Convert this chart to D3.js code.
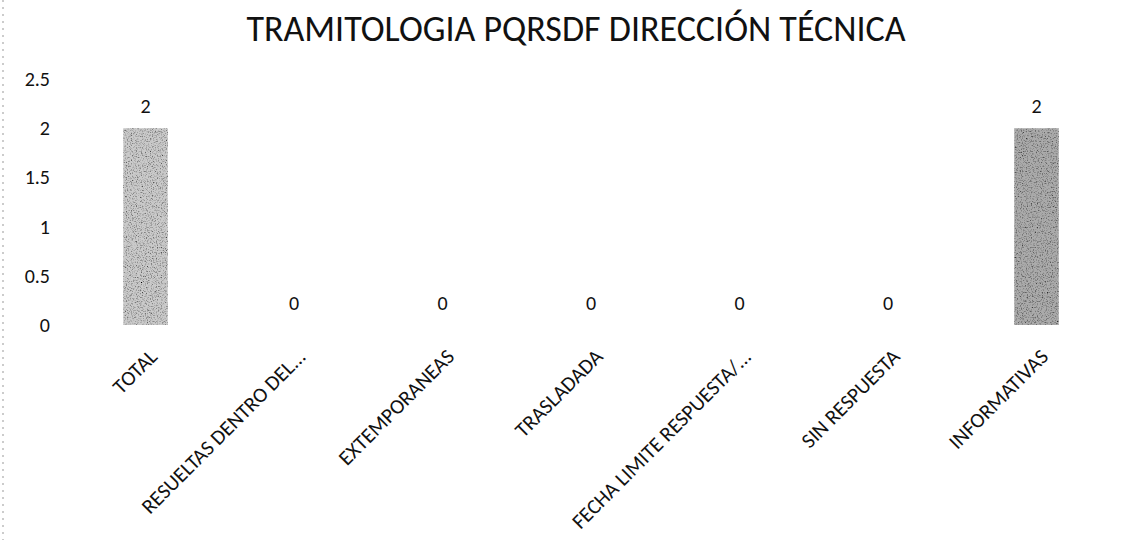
<!DOCTYPE html>
<html><head><meta charset="utf-8">
<script src="https://cdn.jsdelivr.net/npm/d3@7"></script>
<style>body{margin:0;background:#fff}svg{display:block}</style>
</head><body>
<svg id="c" width="1131" height="540"></svg>
<script>
const categories = ["TOTAL","RESUELTAS DENTRO DEL...","EXTEMPORANEAS","TRASLADADA","FECHA LIMITE RESPUESTA/...","SIN RESPUESTA","INFORMATIVAS"];
const values = [2,0,0,0,0,0,2];
const yTicks = [0,0.5,1,1.5,2,2.5];
const title = "TRAMITOLOGIA PQRSDF DIRECCIÓN TÉCNICA";

const font = "Carlito, Calibri, Lato, sans-serif";
const svg = d3.select("#c");
const defs = svg.append("defs");
const f = defs.append("filter").attr("id","grain").attr("x",0).attr("y",0).attr("width",1).attr("height",1);
f.append("feTurbulence").attr("type","fractalNoise").attr("baseFrequency",0.8).attr("numOctaves",2).attr("seed",3).attr("result","n");
f.append("feColorMatrix").attr("in","n").attr("type","matrix")
 .attr("values","0 0 0 0 0  0 0 0 0 0  0 0 0 0 0  0 0 0 -2.4 1.25").attr("result","a");
f.append("feComposite").attr("in","a").attr("in2","SourceGraphic").attr("operator","in").attr("result","d");
f.append("feMerge").call(m=>{m.append("feMergeNode").attr("in","SourceGraphic");m.append("feMergeNode").attr("in","d");});

// scan edge
svg.append("line").attr("x1",3).attr("x2",3).attr("y1",0).attr("y2",540)
  .attr("stroke","#999").attr("stroke-width",1).attr("stroke-dasharray","2,5");

const x = d3.scaleBand().domain(categories).range([71.25,1110.75]).paddingInner(0.7).paddingOuter(0.35);
const y = d3.scaleLinear().domain([0,2.5]).range([325,79]);

svg.append("text").attr("x",576).attr("y",41).attr("text-anchor","middle")
  .attr("font-family",font).attr("font-size",36).attr("fill","#111").text(title);

const ya = svg.append("g").attr("transform","translate(50,0)")
  .call(d3.axisLeft(y).tickValues(yTicks).tickSize(0).tickPadding(0).tickFormat(d=>String(d)));
ya.select(".domain").remove();
ya.selectAll("text").attr("font-family",font).attr("font-size",20).attr("fill","#111");

const barFill = ["#cacaca","#cacaca","#cacaca","#cacaca","#cacaca","#cacaca","#ababab"];
svg.append("g").selectAll("rect").data(values).join("rect")
  .attr("x",(d,i)=>x(categories[i])).attr("width",x.bandwidth())
  .attr("y",d=>y(d)).attr("height",d=>y(0)-y(d))
  .attr("fill",(d,i)=>barFill[i]).attr("filter","url(#grain)");

svg.append("g").selectAll("text").data(values).join("text")
  .attr("x",(d,i)=>x(categories[i])+x.bandwidth()/2).attr("y",d=>y(d)-15)
  .attr("text-anchor","middle").attr("font-family",font).attr("font-size",20).attr("fill","#111")
  .text(d=>d);

svg.append("g").selectAll("text").data(categories).join("text")
  .attr("transform",d=>`translate(${x(d)+x.bandwidth()/2+13},358) rotate(-45)`)
  .attr("text-anchor","end").attr("font-family",font).attr("font-size",21).attr("fill","#111")
  .text(d=>d);
</script>
</body></html>
